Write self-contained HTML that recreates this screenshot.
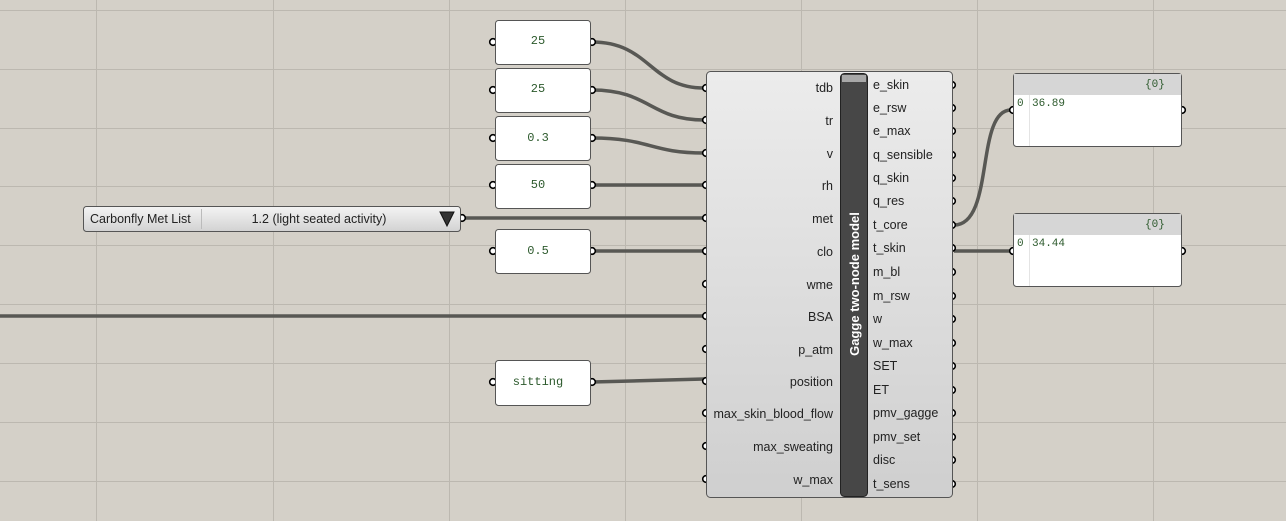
<!DOCTYPE html>
<html><head><meta charset="utf-8"><style>
html,body{margin:0;padding:0;background:#d4d0c8;}
svg{display:block;}
.l{font-family:"Liberation Sans","DejaVu Sans",sans-serif;font-size:12.5px;fill:#222;}
.m{font-family:"Liberation Mono",monospace;font-size:12px;fill:#2d5a2d;}
</style></head><body>
<svg width="1286" height="521" viewBox="0 0 1286 521" xmlns="http://www.w3.org/2000/svg">
<defs>
<linearGradient id="cg" x1="0" y1="0" x2="0" y2="1"><stop offset="0" stop-color="#ececec"/><stop offset="1" stop-color="#cfcfcf"/></linearGradient>
<linearGradient id="vg" x1="0" y1="0" x2="0" y2="1"><stop offset="0" stop-color="#f4f4f4"/><stop offset="1" stop-color="#d2d2d2"/></linearGradient>
</defs>
<rect width="1286" height="521" fill="#d4d0c8"/>
<g stroke="#bcb8b0" stroke-width="1">
<line x1="96.5" y1="0" x2="96.5" y2="521"/><line x1="273.5" y1="0" x2="273.5" y2="521"/><line x1="449.5" y1="0" x2="449.5" y2="521"/><line x1="625.5" y1="0" x2="625.5" y2="521"/><line x1="801.5" y1="0" x2="801.5" y2="521"/><line x1="977.5" y1="0" x2="977.5" y2="521"/><line x1="1153.5" y1="0" x2="1153.5" y2="521"/>
<line x1="0" y1="10.5" x2="1286" y2="10.5"/><line x1="0" y1="69.5" x2="1286" y2="69.5"/><line x1="0" y1="128.5" x2="1286" y2="128.5"/><line x1="0" y1="186.5" x2="1286" y2="186.5"/><line x1="0" y1="245.5" x2="1286" y2="245.5"/><line x1="0" y1="304.5" x2="1286" y2="304.5"/><line x1="0" y1="363.5" x2="1286" y2="363.5"/><line x1="0" y1="422.5" x2="1286" y2="422.5"/><line x1="0" y1="481.5" x2="1286" y2="481.5"/>
</g>
<!-- wires -->
<g stroke="#585854" stroke-width="3.5" fill="none">
<path d="M592 42 C650 42,650 88,704 88"/>
<path d="M592 90 C650 90,650 120,704 120"/>
<path d="M592 138 C650 138,650 153,704 153"/>
<path d="M592 185 L704 185"/>
<path d="M462 218 L704 218"/>
<path d="M592 251 L704 251"/>
<path d="M0 316 L704 316"/>
<path d="M592 382 L704 379"/>
<path d="M954 225 C995 225,975 110,1011 110"/>
<path d="M954 251 L1011 251"/>
</g>
<!-- ports -->
<g fill="#fff" stroke="#000" stroke-width="1.6">
<circle cx="493" cy="42" r="3.3"/><circle cx="592" cy="42" r="3.3"/>
<circle cx="493" cy="90" r="3.3"/><circle cx="592" cy="90" r="3.3"/>
<circle cx="493" cy="138" r="3.3"/><circle cx="592" cy="138" r="3.3"/>
<circle cx="493" cy="185" r="3.3"/><circle cx="592" cy="185" r="3.3"/>
<circle cx="493" cy="251" r="3.3"/><circle cx="592" cy="251" r="3.3"/>
<circle cx="493" cy="382" r="3.3"/><circle cx="592" cy="382" r="3.3"/>
<circle cx="462" cy="218" r="3.3"/>
<circle cx="1013" cy="110" r="3.3"/><circle cx="1182" cy="110" r="3.3"/>
<circle cx="1013" cy="251" r="3.3"/><circle cx="1182" cy="251" r="3.3"/>
<circle cx="706" cy="88" r="3.3"/><circle cx="706" cy="120" r="3.3"/><circle cx="706" cy="153" r="3.3"/><circle cx="706" cy="185" r="3.3"/><circle cx="706" cy="218" r="3.3"/><circle cx="706" cy="251" r="3.3"/><circle cx="706" cy="284" r="3.3"/><circle cx="706" cy="316" r="3.3"/><circle cx="706" cy="349" r="3.3"/><circle cx="706" cy="381" r="3.3"/><circle cx="706" cy="413" r="3.3"/><circle cx="706" cy="446" r="3.3"/><circle cx="706" cy="479" r="3.3"/>
<circle cx="952" cy="85" r="3.3"/><circle cx="952" cy="108" r="3.3"/><circle cx="952" cy="131" r="3.3"/><circle cx="952" cy="155" r="3.3"/><circle cx="952" cy="178" r="3.3"/><circle cx="952" cy="201" r="3.3"/><circle cx="952" cy="225" r="3.3"/><circle cx="952" cy="248" r="3.3"/><circle cx="952" cy="272" r="3.3"/><circle cx="952" cy="296" r="3.3"/><circle cx="952" cy="319" r="3.3"/><circle cx="952" cy="343" r="3.3"/><circle cx="952" cy="366" r="3.3"/><circle cx="952" cy="390" r="3.3"/><circle cx="952" cy="413" r="3.3"/><circle cx="952" cy="437" r="3.3"/><circle cx="952" cy="460" r="3.3"/><circle cx="952" cy="484" r="3.3"/>
</g>
<!-- number panels -->
<g fill="#fff" stroke="#555" stroke-width="1">
<rect x="495.5" y="20.5" width="95" height="44" rx="3"/>
<rect x="495.5" y="68.5" width="95" height="44" rx="3"/>
<rect x="495.5" y="116.5" width="95" height="44" rx="3"/>
<rect x="495.5" y="164.5" width="95" height="44" rx="3"/>
<rect x="495.5" y="229.5" width="95" height="44" rx="3"/>
<rect x="495.5" y="360.5" width="95" height="45" rx="3"/>
</g>
<g class="m" text-anchor="middle">
<text x="538" y="44">25</text><text x="538" y="92">25</text><text x="538" y="141">0.3</text><text x="538" y="188">50</text><text x="538" y="254">0.5</text><text x="538" y="385">sitting</text>
</g>
<!-- value list -->
<rect x="83.5" y="206.5" width="377" height="25" rx="3" fill="url(#vg)" stroke="#555"/>
<line x1="201.5" y1="209" x2="201.5" y2="229" stroke="#bbb"/>
<text class="l" x="90" y="223" style="font-size:12.5px">Carbonfly Met List</text>
<text class="l" x="319" y="223" text-anchor="middle">1.2 (light seated activity)</text>
<path d="M440 212 L454 212 L447 226 Z" fill="#333" stroke="#111" stroke-width="1"/>
<!-- main component -->
<rect x="706.5" y="71.5" width="246" height="426" rx="4" fill="url(#cg)" stroke="#555"/>
<rect x="840.5" y="73.5" width="27" height="423" rx="4" fill="#474747" stroke="#222"/>
<rect x="842" y="75" width="24" height="7" fill="#a8a8a8"/>
<text x="859" y="284" transform="rotate(-90 859 284)" text-anchor="middle" style="font-family:'Liberation Sans','DejaVu Sans',sans-serif;font-size:13px;font-weight:bold;fill:#fff">Gagge two-node model</text>
<g class="l" text-anchor="end">
<text x="833" y="92">tdb</text><text x="833" y="125">tr</text><text x="833" y="158">v</text><text x="833" y="190">rh</text><text x="833" y="223">met</text><text x="833" y="256">clo</text><text x="833" y="289">wme</text><text x="833" y="321">BSA</text><text x="833" y="354">p_atm</text><text x="833" y="386">position</text><text x="833" y="418">max_skin_blood_flow</text><text x="833" y="451">max_sweating</text><text x="833" y="484">w_max</text>
</g>
<g class="l">
<text x="873" y="89">e_skin</text><text x="873" y="112">e_rsw</text><text x="873" y="135">e_max</text><text x="873" y="159">q_sensible</text><text x="873" y="182">q_skin</text><text x="873" y="205">q_res</text><text x="873" y="229">t_core</text><text x="873" y="252">t_skin</text><text x="873" y="276">m_bl</text><text x="873" y="300">m_rsw</text><text x="873" y="323">w</text><text x="873" y="347">w_max</text><text x="873" y="370">SET</text><text x="873" y="394">ET</text><text x="873" y="417">pmv_gagge</text><text x="873" y="441">pmv_set</text><text x="873" y="464">disc</text><text x="873" y="488">t_sens</text>
</g>
<!-- output panels -->
<g>
<rect x="1013.5" y="73.5" width="168" height="73" rx="3" fill="#fff" stroke="#555"/>
<rect x="1014" y="74" width="167" height="21" fill="#d6d6d6"/>
<line x1="1029.5" y1="95" x2="1029.5" y2="146" stroke="#e4e4e4"/>
<text class="m" x="1145" y="87" style="font-size:11px">{0}</text>
<text class="m" x="1017" y="106" style="font-size:11px">0</text><text class="m" x="1032" y="106" style="font-size:11px">36.89</text>
<rect x="1013.5" y="213.5" width="168" height="73" rx="3" fill="#fff" stroke="#555"/>
<rect x="1014" y="214" width="167" height="21" fill="#d6d6d6"/>
<line x1="1029.5" y1="235" x2="1029.5" y2="286" stroke="#e4e4e4"/>
<text class="m" x="1145" y="227" style="font-size:11px">{0}</text>
<text class="m" x="1017" y="246" style="font-size:11px">0</text><text class="m" x="1032" y="246" style="font-size:11px">34.44</text>
</g>
</svg>
</body></html>
